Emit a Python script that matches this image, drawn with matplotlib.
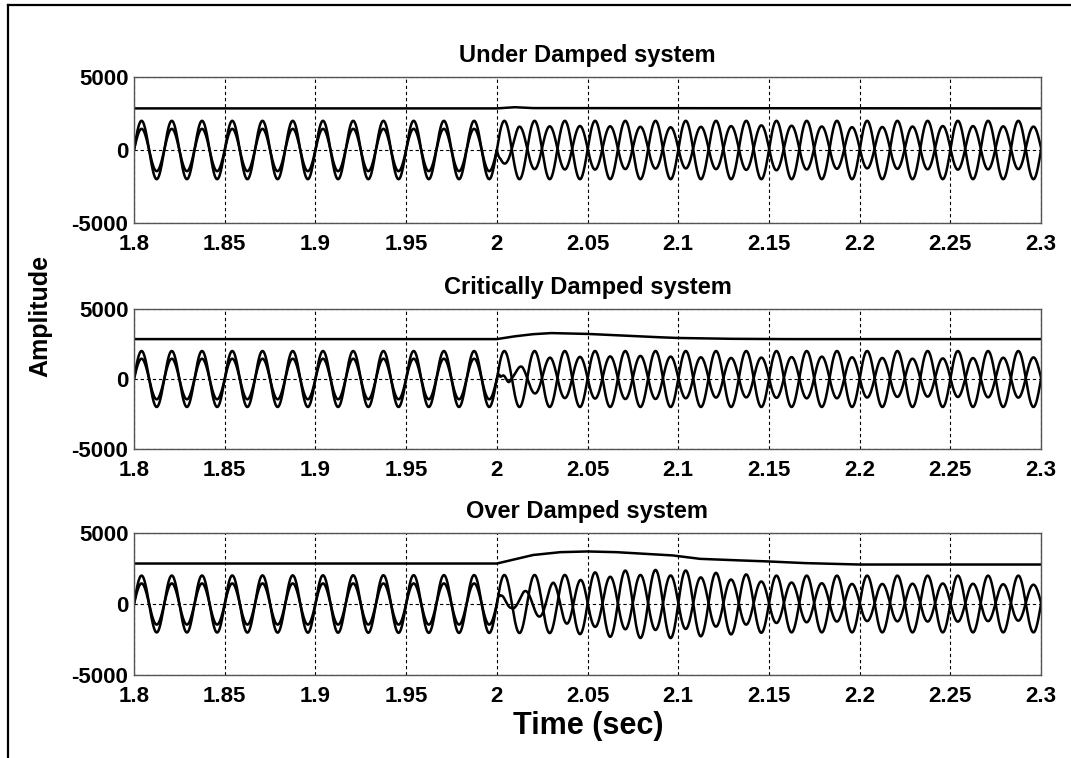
import numpy as np
import matplotlib.pyplot as plt
from matplotlib.lines import Line2D

plt.rcParams["font.family"] = ["Liberation Sans", "DejaVu Sans"]
plt.rcParams["font.weight"] = "bold"
plt.rcParams["axes.unicode_minus"] = False

titles = ["Under Damped system", "Critically Damped system", "Over Damped system"]
x_ticks = [1.8, 1.85, 1.9, 1.95, 2.0, 2.05, 2.1, 2.15, 2.2, 2.25, 2.3]
x_labels = ["1.8", "1.85", "1.9", "1.95", "2", "2.05", "2.1", "2.15", "2.2", "2.25", "2.3"]
y_ticks = [-5000, 0, 5000]

line_freq = 60.0  # 12 cycles between 1.8 and 2.0
t_start, t_end = 1.8, 2.3

# top trace (dc level)
dc_t = [
    [1.8, 2.0, 2.01, 2.02, 2.3],
    [1.8, 2.0, 2.01, 2.02, 2.03, 2.05, 2.07, 2.09, 2.1, 2.13, 2.16, 2.3],
    [1.8, 2.0, 2.02, 2.035, 2.05, 2.066, 2.097, 2.112, 2.134, 2.149, 2.17, 2.2, 2.3],
]
dc_v = [
    [2850, 2850, 2930, 2870, 2850],
    [2850, 2850, 3050, 3200, 3280, 3220, 3100, 2980, 2930, 2870, 2850, 2850],
    [2850, 2850, 3450, 3650, 3700, 3650, 3420, 3180, 3070, 3000, 2880, 2780, 2780],
]

# outer sine amplitude
amp_a_t = [
    [1.8, 2.3],
    [1.8, 2.3],
    [1.8, 2.04, 2.06, 2.08, 2.1, 2.12, 2.15, 2.3],
]
amp_a_v = [
    [2000, 2000],
    [2000, 2000],
    [2000, 2050, 2300, 2400, 2400, 2200, 2000, 2000],
]

# inner sine amplitude
amp_b_t = [
    [1.8, 2.0, 2.002, 2.006, 2.012, 2.05, 2.1, 2.15, 2.2, 2.25, 2.3],
    [1.8, 2.0, 2.002, 2.008, 2.014, 2.02, 2.03, 2.08, 2.13, 2.18, 2.23, 2.3],
    [1.8, 2.0, 2.002, 2.008, 2.015, 2.024, 2.031, 2.04, 2.06, 2.08, 2.1, 2.12,
     2.15, 2.2, 2.25, 2.3],
]
amp_b_v = [
    [1450, 1450, 900, 1050, 1450, 1500, 1400, 1550, 1400, 1500, 1450],
    [1450, 1450, 200, 300, 900, 1100, 1450, 1550, 1400, 1500, 1350, 1450],
    [1450, 1450, 600, 350, 800, 1000, 1400, 1500, 1800, 1950, 1900, 1700,
     1450, 1300, 1350, 1250],
]
off_b_v = [150, 100, 100]

# inner sine phase shift (rad)
phi_b_t = [
    [1.8, 2.0, 2.00001],
    [1.8, 2.003, 2.008],
    [1.8, 2.0, 2.004, 2.01, 2.02, 2.035, 2.05],
]
phi_b_v = [
    [0, 0, np.pi],
    [0, 0, np.pi],
    [0, 0, 0.8, 1.8, 2.1, 2.6, np.pi],
]

fig = plt.figure(figsize=(10.71, 7.58), dpi=100)

# axes boxes in pixels: top, bottom
boxes = [(77, 223), (309, 449), (533, 675)]
left_px, right_px = 134, 1041
W, H = 1071, 758

t = np.linspace(t_start, t_end, 5001)
theta = 2 * np.pi * line_freq * (t - t_start)

for i in range(3):
    top, bot = boxes[i]
    ax = fig.add_axes([left_px / W, 1 - bot / H, (right_px - left_px) / W, (bot - top) / H])

    amp_a = np.interp(t, amp_a_t[i], amp_a_v[i])
    amp_b = np.interp(t, amp_b_t[i], amp_b_v[i])
    phi_b = np.interp(t, phi_b_t[i], phi_b_v[i])
    off_b = np.interp(t, [2.0, 2.012], [0, off_b_v[i]])

    sig_a = amp_a * np.sin(theta)
    sig_b = amp_b * np.sin(theta + phi_b) + off_b

    ax.plot(t, sig_a, color="black", lw=1.8)
    ax.plot(t, sig_b, color="black", lw=1.8)
    ax.plot(dc_t[i], dc_v[i], color="black", lw=1.8)

    ax.set_xlim(t_start, t_end)
    ax.set_ylim(-5000, 5000)
    ax.set_xticks(x_ticks)
    ax.set_xticklabels(x_labels)
    ax.set_yticks(y_ticks)
    ax.tick_params(axis="both", length=0, labelsize=16)
    ax.tick_params(axis="x", pad=8)
    ax.tick_params(axis="y", pad=4)
    ax.grid(True, color="black", linestyle=(0, (3, 2.5)), lw=0.8)
    for s in ax.spines.values():
        s.set_color("#555555")
        s.set_linewidth(1.0)
    ax.set_title(titles[i], fontsize=17, fontweight="bold", pad=11)

fig.text(588 / W, 1 - 726 / H, "Time (sec)", fontsize=22, fontweight="bold",
         ha="center", va="center")
fig.text(40 / W, 1 - 316 / H, "Amplitude", fontsize=18, fontweight="bold",
         ha="center", va="center", rotation=90)

# border left + top
fig.add_artist(Line2D([8 / W, 8 / W], [0, 1 - 5 / H], transform=fig.transFigure,
                      color="black", lw=1.6))
fig.add_artist(Line2D([8 / W, 1], [1 - 5 / H, 1 - 5 / H], transform=fig.transFigure,
                      color="black", lw=1.6))

fig.savefig("out.png", dpi=100)
